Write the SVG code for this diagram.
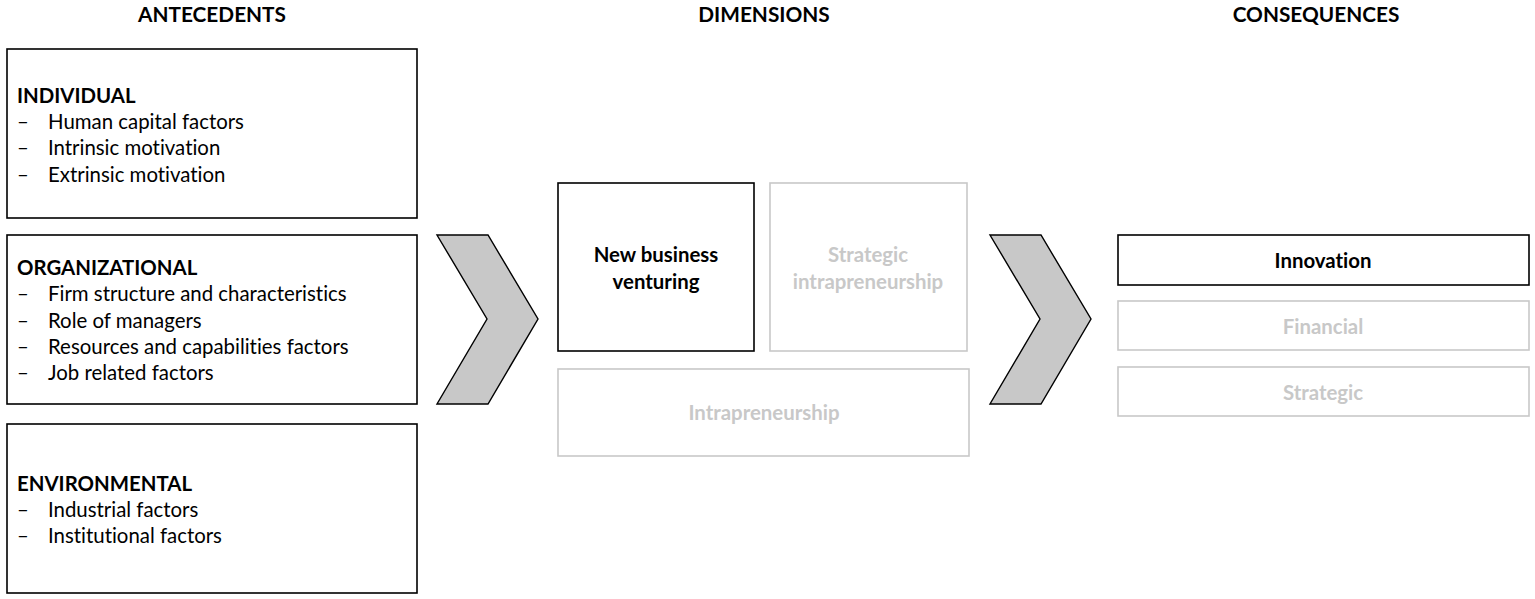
<svg xmlns="http://www.w3.org/2000/svg" width="1535" height="599" viewBox="0 0 1535 599">
<style>
text{font-family:Lato,"Liberation Sans",sans-serif;font-size:20.4px;fill:#000;font-variant-ligatures:none}
.h{font-weight:bold;text-anchor:middle;font-size:20.8px}
.b{font-weight:bold}
.c{text-anchor:middle;font-weight:bold}
.g{fill:#c8c8c8}
.box{fill:#fff;stroke:#000;stroke-width:1.6}
.lbox{fill:#fff;stroke:#c8c8c8;stroke-width:1.6}
.chev{fill:#c8c8c8;stroke:#000;stroke-width:1.4}
</style>
<rect width="1535" height="599" fill="#fff"/>
<g id="headers">
<text class="h" x="212" y="22">ANTECEDENTS</text>
<text class="h" x="764" y="22">DIMENSIONS</text>
<text class="h" x="1316" y="22">CONSEQUENCES</text>
</g>
<g id="individual">
<rect class="box" x="7" y="49" width="410" height="169"/>
<text class="b" x="17" y="103">INDIVIDUAL</text>
<text x="17" y="129">–</text><text x="48" y="129">Human capital factors</text>
<text x="17" y="155">–</text><text x="48" y="155">Intrinsic motivation</text>
<text x="17" y="182">–</text><text x="48" y="182">Extrinsic motivation</text>
</g>
<g id="organizational">
<rect class="box" x="7" y="235" width="410" height="169"/>
<text class="b" x="17" y="275">ORGANIZATIONAL</text>
<text x="17" y="301">–</text><text x="48" y="301">Firm structure and characteristics</text>
<text x="17" y="328">–</text><text x="48" y="328">Role of managers</text>
<text x="17" y="354">–</text><text x="48" y="354">Resources and capabilities factors</text>
<text x="17" y="380">–</text><text x="48" y="380">Job related factors</text>
</g>
<g id="environmental">
<rect class="box" x="7" y="424" width="410" height="169"/>
<text class="b" x="17" y="491">ENVIRONMENTAL</text>
<text x="17" y="517">–</text><text x="48" y="517">Industrial factors</text>
<text x="17" y="543">–</text><text x="48" y="543">Institutional factors</text>
</g>
<g id="connectors">
<polygon class="chev" points="437,235 488,235 538,319 488,404 437,404 487,319"/>
<polygon class="chev" points="990,235 1041,235 1091,319 1041,404 990,404 1040,319"/>
</g>
<g id="new-business-venturing">
<rect class="box" x="558" y="183" width="196" height="168"/>
<text class="c" x="656" y="262">New business</text>
<text class="c" x="656" y="289">venturing</text>
</g>
<g id="strategic-intrapreneurship">
<rect class="lbox" x="770" y="183" width="197" height="168"/>
<text class="c g" x="868" y="262">Strategic</text>
<text class="c g" x="868" y="289">intrapreneurship</text>
</g>
<g id="intrapreneurship">
<rect class="lbox" x="558" y="369" width="411" height="87"/>
<text class="c g" x="764" y="420">Intrapreneurship</text>
</g>
<g id="innovation">
<rect class="box" x="1118" y="235" width="411" height="50"/>
<text class="c" x="1323" y="268">Innovation</text>
</g>
<g id="financial">
<rect class="lbox" x="1118" y="301" width="411" height="49"/>
<text class="c g" x="1323" y="334">Financial</text>
</g>
<g id="strategic">
<rect class="lbox" x="1118" y="367" width="411" height="49"/>
<text class="c g" x="1323" y="400">Strategic</text>
</g>
</svg>
